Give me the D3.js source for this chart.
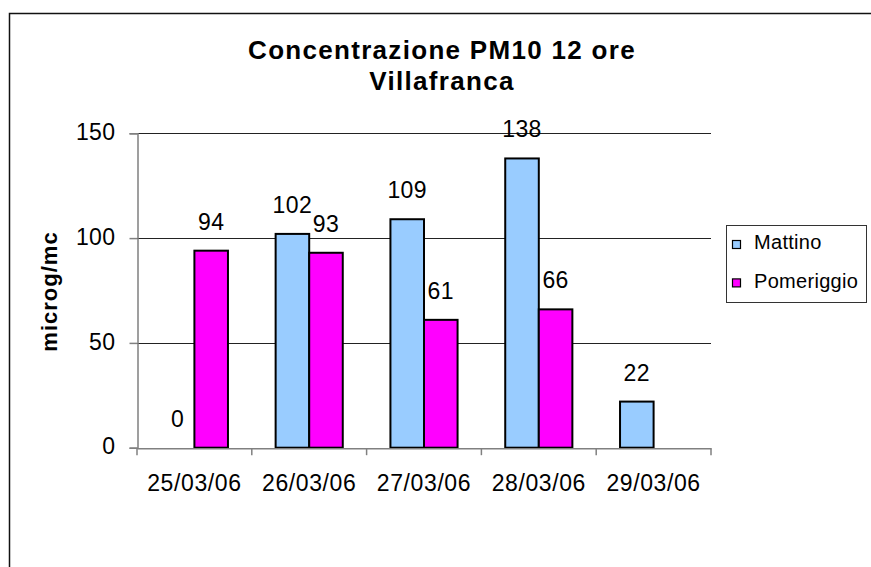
<html>
<head>
<meta charset="utf-8">
<style>
body{
  margin:0;
  padding:0;
  overflow: hidden;
  background-color: white;
  font-family: 'Liberation Sans', Arial, sans-serif;
}
</style>
</head>
<body>
<div id="chart"></div>
<script src="https://d3js.org/d3.v7.min.js"></script>
<script>
//========== DATA =============
const dates = ["25/03/06", "26/03/06", "27/03/06", "28/03/06", "29/03/06"];
const seriesNames = ["Mattino", "Pomeriggio"];
const mattino = [0, 102, 109, 138, 22];
const pomeriggio = [94, 93, 61, 66, null];    // no afternoon value on 29/03
const yTicks = [0, 50, 100, 150];
const colors = ["#99ccff", "#ff00ff"];

const titleLines = ["Concentrazione PM10 12 ore", "Villafranca"];
const yTitle = "microg/mc";

//========== SVG VIEW =============
var width = 871, height = 567;
var svg = d3.select("#chart").append("svg")
    .attr("width", width).attr("height", height);

// outer chart border (cut by the window on the right and bottom)
svg.append("rect")
    .attr("x", 9.5).attr("y", 13.5)
    .attr("width", 880).attr("height", 600)
    .attr("fill", "white")
    .attr("stroke", "#111").attr("stroke-width", 1.5);

var plot = {left: 137, right: 711, top: 133.3, bottom: 447.7};

var x = d3.scaleBand()
    .domain(dates)
    .range([plot.left, plot.right]);

var xs = d3.scaleBand()                 // position of each series inside a date
    .domain(seriesNames)
    .range([0, x.bandwidth()])
    .paddingOuter(0.71);

var y = d3.scaleLinear()
    .domain([0, 150])
    .range([plot.bottom, plot.top]);

//========== GRID =============
svg.append("g").selectAll("line")
    .data(yTicks.filter(t => t > 0))
    .enter().append("line")
    .attr("x1", plot.left).attr("x2", plot.right)
    .attr("y1", d => Math.round(y(d)) + 0.5).attr("y2", d => Math.round(y(d)) + 0.5)
    .attr("stroke", "#222").attr("stroke-width", 1);

//========== BARS =============
var rows = dates.map((d, i) => ({date: d, values: [mattino[i], pomeriggio[i]]}));

var groups = svg.append("g").selectAll("g")
    .data(rows)
    .enter().append("g")
    .attr("transform", d => "translate(" + x(d.date) + ",0)");

groups.selectAll("rect")
    .data(d => d.values.map((v, k) => ({name: seriesNames[k], value: v, k: k})).filter(e => e.value > 0))
    .enter().append("rect")
    .attr("x", d => xs(d.name))
    .attr("y", d => y(d.value))
    .attr("width", xs.bandwidth())
    .attr("height", d => y(0) - y(d.value))
    .attr("fill", d => colors[d.k])
    .attr("stroke", "black").attr("stroke-width", 2);

// value labels (the zero of 25/03 is labelled too)
groups.selectAll("text")
    .data(d => d.values.map((v, k) => ({name: seriesNames[k], value: v})).filter(e => e.value !== null))
    .enter().append("text")
    .attr("x", d => xs(d.name) + xs.bandwidth() / 2)
    .attr("y", d => y(d.value) - 21)
    .attr("text-anchor", "middle")
    .style("font-size", "23px")
    .style("letter-spacing", "0.4px")
    .attr("fill", "black")
    .text(d => d.value);

//========== AXES =============
var yAxis = d3.axisLeft(y).tickValues(yTicks).tickSize(8).tickPadding(14);
var gy = svg.append("g")
    .attr("transform", "translate(" + (plot.left + 0.5) + ",0)")
    .call(yAxis);
gy.select(".domain").attr("stroke", "#808080").attr("stroke-width", 1.5);
gy.selectAll(".tick line").attr("stroke", "#808080").attr("stroke-width", 1.5);
gy.selectAll(".tick text")
    .attr("dy", "0.27em")
    .style("font-size", "23px")
    .style("font-family", "'Liberation Sans', Arial, sans-serif")
    .style("letter-spacing", "0.4px")
    .attr("fill", "black");

var xAxis = d3.axisBottom(x).tickSize(0).tickPadding(26);
var gx = svg.append("g")
    .attr("transform", "translate(0," + (plot.bottom + 0.5) + ")")
    .call(xAxis);
gx.select(".domain").attr("stroke", "#808080").attr("stroke-width", 1.5);
gx.selectAll(".tick text")
    .attr("dy", "0.71em")
    .style("font-size", "23px")
    .style("font-family", "'Liberation Sans', Arial, sans-serif")
    .style("letter-spacing", "0.6px")
    .attr("fill", "black");

// tick marks sit on the category boundaries
var bounds = dates.map(d => x(d)).concat([x(dates[dates.length - 1]) + x.bandwidth()]);
gx.selectAll(".bound")
    .data(bounds)
    .enter().append("line")
    .attr("class", "bound")
    .attr("x1", d => d).attr("x2", d => d)
    .attr("y1", 0).attr("y2", 7)
    .attr("stroke", "#808080").attr("stroke-width", 1.5);

//========== TITLES =============
svg.append("g").selectAll("text")
    .data(titleLines)
    .enter().append("text")
    .attr("x", 442)
    .attr("y", (d, i) => 59 + i * 30.5)
    .attr("text-anchor", "middle")
    .style("font-size", "26px")
    .style("font-weight", "bold")
    .style("letter-spacing", "1.3px")
    .text(d => d);

svg.append("text")
    .attr("transform", "translate(57," + ((plot.top + plot.bottom) / 2 + 1) + ") rotate(-90)")
    .attr("text-anchor", "middle")
    .style("font-size", "22px")
    .style("font-weight", "bold")
    .style("letter-spacing", "1px")
    .text(yTitle);

//========== LEGEND =============
var legend = svg.append("g").attr("transform", "translate(726,225)");
legend.append("rect")
    .attr("x", 0.5).attr("y", 0.5)
    .attr("width", 140).attr("height", 77)
    .attr("fill", "white")
    .attr("stroke", "#333").attr("stroke-width", 1);

var items = legend.selectAll(".item")
    .data(seriesNames)
    .enter().append("g")
    .attr("class", "item")
    .attr("transform", (d, i) => "translate(0," + (i * 38.4) + ")");

items.append("rect")
    .attr("x", 6.5).attr("y", 15.5)
    .attr("width", 8).attr("height", 8)
    .attr("fill", (d, i) => colors[i])
    .attr("stroke", "black").attr("stroke-width", 1.2);

items.append("text")
    .attr("x", 28).attr("y", 24.3)
    .style("font-size", "20px")
    .style("letter-spacing", "0.3px")
    .text(d => d);
</script>
</body>
</html>
